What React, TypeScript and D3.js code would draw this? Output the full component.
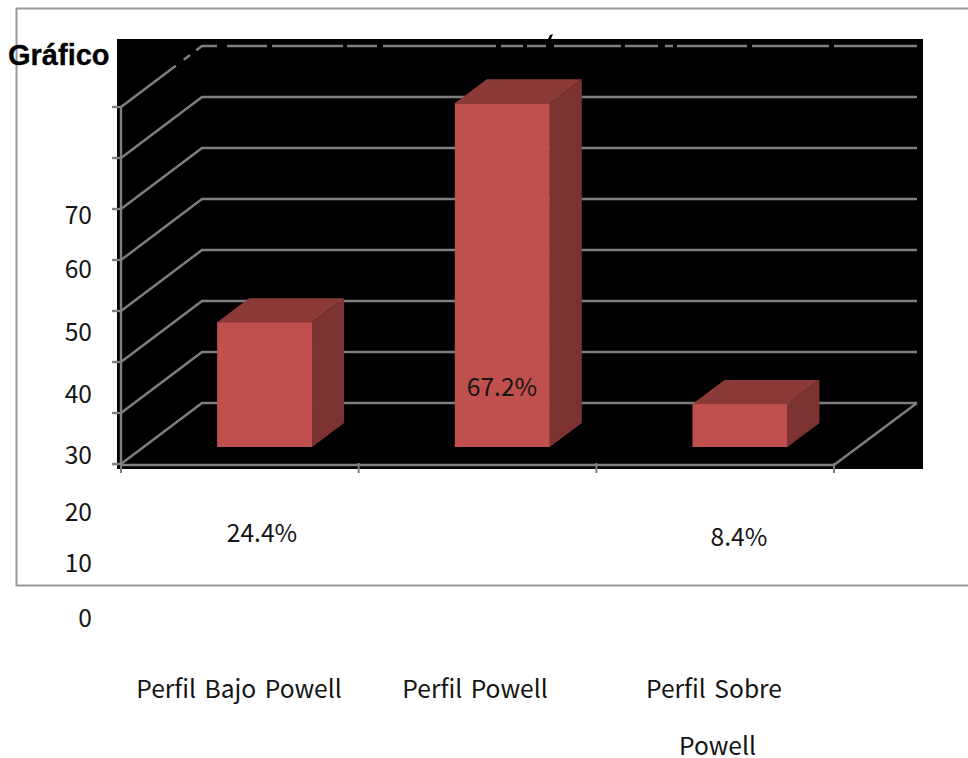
import React from "react";
import * as d3 from "d3";

const categories = ["Perfil Bajo Powell", "Perfil Powell", "Perfil Sobre Powell"];
const values = [24.4, 67.2, 8.4];
const valueLabels = ["24.4%", "67.2%", "8.4%"];
const tickLabels = ["70", "60", "50", "40", "30", "20", "10", "0"];
const tickLabelY = [224, 278, 341, 403, 464, 521, 572, 627];
const gridValues = [0, 10, 20, 30, 40, 50, 60, 70];
const labelPos = [[262, 542], [502, 396], [739, 546]];
// stretches of the top gridline hidden by the black title text lying over it
const titleGaps = [[217, 227], [267, 272], [343, 347], [377, 383], [496, 501], [523, 527], [546, 554], [621, 625], [658, 665], [673, 677], [747, 752], [829, 834]];

const W = 968, H = 758;
const DX = 81, DY = -61;
const BDX = 32, BDY = -24;
const FONT = "'Noto Sans CJK KR', 'Noto Sans', sans-serif";
const GRID = "#7f7f7f";
const TEXT = "#151515";
const FS = 24.6;

export default function App() {
  const x = d3.scaleBand<string>().domain(categories).range([121, 834]);
  const y = d3.scaleLinear().domain([0, 70]).range([464, 107]);
  const barY = d3.scaleLinear().domain([0, 70]).range([447, 89]);
  const poly = d3.line();
  const barW = 95;
  return (
    <svg width={W} height={H} style={{ position: "absolute", left: 0, top: 0, background: "#fff" }}>
      <path d={`M968 8.5H16.5V585.5H968`} fill="none" stroke="#9a9a9a" strokeWidth={2} />
      <text x={8} y={65} fontFamily="'Liberation Sans', sans-serif" fontWeight={700} fontSize={29} fill="#000" stroke="#000" strokeWidth={0.3}>Gráfico</text>
      <rect x={117} y={39} width={806} height={430} fill="#000" />
      {gridValues.map((v) => (
        <g key={v} stroke={GRID} strokeWidth={2.4} fill="none">
          <path d={poly([[121, y(v)], [121 + DX, y(v) + DY], [917, y(v) + DY]])!} />
          <line x1={112} x2={121} y1={y(v)} y2={y(v)} />
        </g>
      ))}
      <g stroke="#000" strokeWidth={4}>
        {titleGaps.map(([a, b]) => <line key={a} x1={a} x2={b} y1={y(70) + DY} y2={y(70) + DY} />)}
        <line x1={176} x2={184} y1={66} y2={60} />
        <line x1={190} x2={196} y1={55} y2={50} />
      </g>
      <path d="M548 39L550 35L553 34L551 39Z" fill="#000" />
      <line x1={121} x2={121} y1={107} y2={464} stroke={GRID} strokeWidth={2.4} />
      <line x1={121} x2={834} y1={465} y2={465} stroke={GRID} strokeWidth={2.4} />
      <line x1={834} x2={917} y1={465} y2={403} stroke={GRID} strokeWidth={2.4} />
      {[0, 1, 2, 3].map((i) => {
        const tx = 121 + i * x.step();
        return <line key={i} x1={tx} x2={tx} y1={463} y2={473} stroke={GRID} strokeWidth={2} />;
      })}
      {categories.map((c, i) => {
        const x0 = x(c)! + x.bandwidth() / 2 + 24.8 - barW / 2;
        const x1 = x0 + barW;
        const yb = barY(0), yt = barY(values[i]);
        return (
          <g key={c}>
            <path d={poly([[x0, yt], [x0 + BDX, yt + BDY], [x1 + BDX, yt + BDY], [x1, yt]])! + "Z"} fill="#8c3a38" />
            <path d={poly([[x1, yt], [x1 + BDX, yt + BDY], [x1 + BDX, yb + BDY], [x1, yb]])! + "Z"} fill="#7c3230" />
            <rect x={x0} y={yt} width={barW} height={yb - yt} fill="#c0504d" />
          </g>
        );
      })}
      {tickLabels.map((t, i) => (
        <text key={t} x={92} y={tickLabelY[i]} textAnchor="end" fontFamily={FONT} fontSize={FS} fill={TEXT}>{t}</text>
      ))}
      {valueLabels.map((t, i) => (
        <text key={t} x={labelPos[i][0]} y={labelPos[i][1]} textAnchor="middle" fontFamily={FONT} fontSize={FS} fill={TEXT}>{t}</text>
      ))}
      <text x={239} y={698} textAnchor="middle" fontFamily={FONT} fontSize={FS} fill={TEXT} wordSpacing={3}>Perfil Bajo Powell</text>
      <text x={475} y={698} textAnchor="middle" fontFamily={FONT} fontSize={FS} fill={TEXT} wordSpacing={3}>Perfil Powell</text>
      <text x={714} y={698} textAnchor="middle" fontFamily={FONT} fontSize={FS} fill={TEXT} wordSpacing={3}>Perfil Sobre</text>
      <text x={717.5} y={755} textAnchor="middle" fontFamily={FONT} fontSize={FS} fill={TEXT}>Powell</text>
    </svg>
  );
}
